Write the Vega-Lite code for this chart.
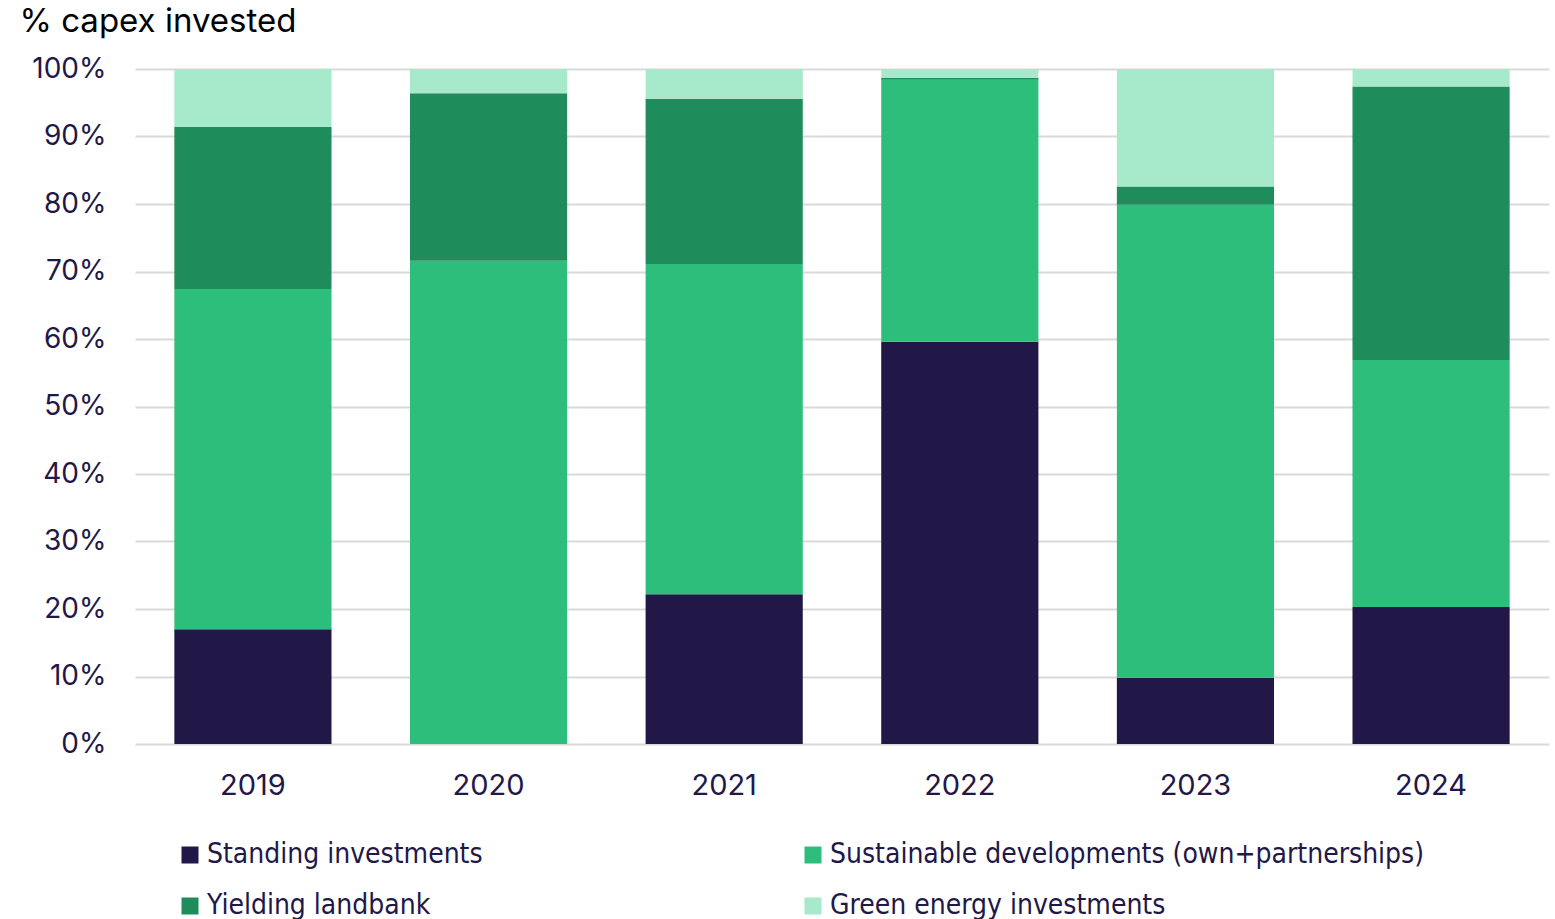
{
  "$schema": "https://vega.github.io/schema/vega-lite/v6.json",
  "width": 1414,
  "height": 675,
  "autosize": {"type": "none"},
  "padding": {"left": 135, "top": 69, "right": 6, "bottom": 175},
  "background": "white",
  "data": {
    "values": [
      {"year": "2019", "cat": "Standing investments", "o": 1, "v": 17.0},
      {"year": "2019", "cat": "Sustainable developments (own+partnerships)", "o": 2, "v": 50.4},
      {"year": "2019", "cat": "Yielding landbank", "o": 3, "v": 24.0},
      {"year": "2019", "cat": "Green energy investments", "o": 4, "v": 8.6},
      {"year": "2020", "cat": "Standing investments", "o": 1, "v": 0},
      {"year": "2020", "cat": "Sustainable developments (own+partnerships)", "o": 2, "v": 71.6},
      {"year": "2020", "cat": "Yielding landbank", "o": 3, "v": 24.8},
      {"year": "2020", "cat": "Green energy investments", "o": 4, "v": 3.6},
      {"year": "2021", "cat": "Standing investments", "o": 1, "v": 22.2},
      {"year": "2021", "cat": "Sustainable developments (own+partnerships)", "o": 2, "v": 48.9},
      {"year": "2021", "cat": "Yielding landbank", "o": 3, "v": 24.5},
      {"year": "2021", "cat": "Green energy investments", "o": 4, "v": 4.4},
      {"year": "2022", "cat": "Standing investments", "o": 1, "v": 59.6},
      {"year": "2022", "cat": "Sustainable developments (own+partnerships)", "o": 2, "v": 38.8},
      {"year": "2022", "cat": "Yielding landbank", "o": 3, "v": 0.3},
      {"year": "2022", "cat": "Green energy investments", "o": 4, "v": 1.3},
      {"year": "2023", "cat": "Standing investments", "o": 1, "v": 9.8},
      {"year": "2023", "cat": "Sustainable developments (own+partnerships)", "o": 2, "v": 70.1},
      {"year": "2023", "cat": "Yielding landbank", "o": 3, "v": 2.7},
      {"year": "2023", "cat": "Green energy investments", "o": 4, "v": 17.4},
      {"year": "2024", "cat": "Standing investments", "o": 1, "v": 20.3},
      {"year": "2024", "cat": "Sustainable developments (own+partnerships)", "o": 2, "v": 36.6},
      {"year": "2024", "cat": "Yielding landbank", "o": 3, "v": 40.5},
      {"year": "2024", "cat": "Green energy investments", "o": 4, "v": 2.6}
    ]
  },
  "mark": {"type": "bar"},
  "encoding": {
    "x": {
      "field": "year",
      "type": "ordinal",
      "scale": {"paddingInner": 0.333, "paddingOuter": 0.167},
      "axis": {
        "title": null,
        "labelAngle": 0,
        "labelFont": "Inter",
        "labelFontSize": 29,
        "labelColor": "#211847",
        "labelPadding": 27,
        "ticks": false,
        "domain": false
      }
    },
    "y": {
      "field": "v",
      "type": "quantitative",
      "stack": "zero",
      "scale": {"domain": [0, 100], "nice": false},
      "axis": {
        "values": [0, 10, 20, 30, 40, 50, 60, 70, 80, 90, 100],
        "labelExpr": "datum.value + '%'",
        "labelFont": "Inter",
        "labelFontSize": 28,
        "labelColor": "#211847",
        "labelPadding": 29,
        "ticks": false,
        "domain": false,
        "grid": true,
        "gridColor": "#d9d9d9",
        "gridWidth": 2,
        "title": "% capex invested",
        "titleAngle": 0,
        "titleAlign": "left",
        "titleBaseline": "alphabetic",
        "titleX": -116,
        "titleY": -38,
        "titleFont": "Inter",
        "titleFontSize": 33,
        "titleFontWeight": "normal",
        "titleColor": "#000000"
      }
    },
    "color": {
      "field": "cat",
      "type": "nominal",
      "scale": {
        "domain": ["Standing investments", "Sustainable developments (own+partnerships)", "Yielding landbank", "Green energy investments"],
        "range": ["#211847", "#2EBE7B", "#1F8C5C", "#A6E9CB"]
      },
      "legend": {
        "title": null,
        "orient": "none",
        "legendX": 41,
        "legendY": 772,
        "direction": "horizontal",
        "columns": 2,
        "columnPadding": 316,
        "rowPadding": 23,
        "symbolType": "square",
        "symbolSize": 289,
        "symbolStrokeWidth": 0,
        "labelFont": "DejaVu Sans Condensed",
        "labelFontSize": 28,
        "labelColor": "#211847",
        "labelOffset": 3,
        "labelLimit": 800
      }
    },
    "order": {"field": "o", "type": "quantitative"}
  },
  "config": {
    "view": {"stroke": null}
  }
}
